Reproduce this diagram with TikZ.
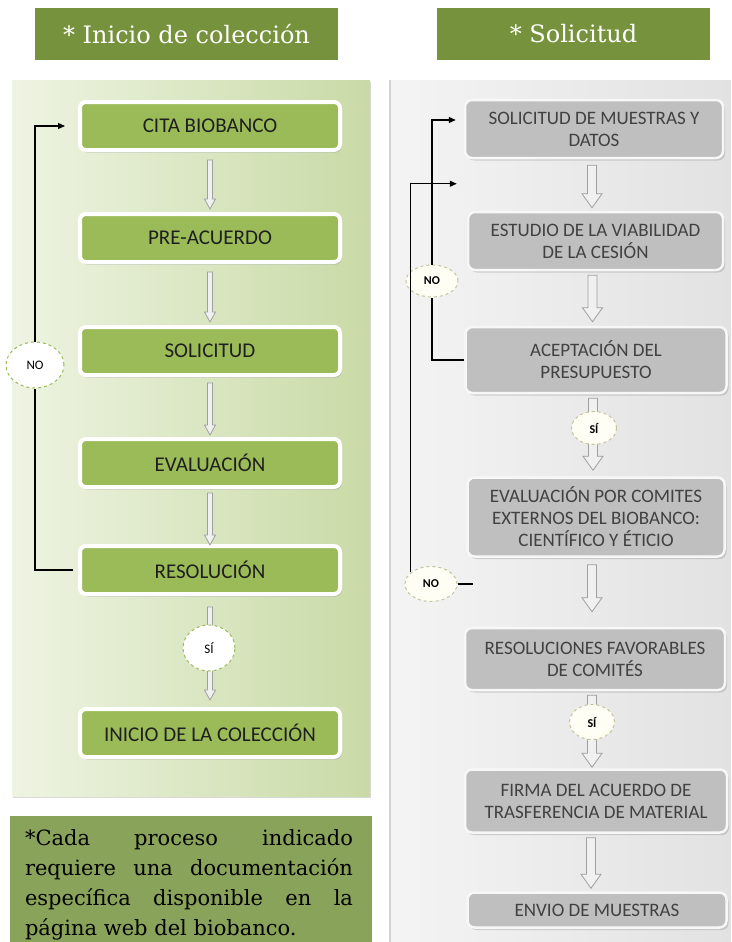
\documentclass[tikz,border=0pt]{standalone}
\usepackage{fontspec}
\setmainfont{Carlito}
\newfontfamily\rotulo{DejaVu Serif}
\usetikzlibrary{shapes.geometric,shadows,calc,arrows.meta}

\definecolor{verdetitulo}{HTML}{76923C}
\definecolor{verdecaja}{HTML}{9BBB59}
\definecolor{verdenota}{HTML}{8AA35A}
\definecolor{verdeclaro}{HTML}{EEF4E2}
\definecolor{verdefondo}{HTML}{C9DAA6}
\definecolor{grisclaro}{HTML}{F4F4F4}
\definecolor{grisfondo}{HTML}{E2E2E2}
\definecolor{texto}{HTML}{1F1F1F}
\definecolor{bordesino}{HTML}{C2C49A}

\begin{document}
\begin{tikzpicture}[x=1pt, y=-1pt,
    titulo/.style={fill=verdetitulo, text=white, font=\rotulo\fontsize{24}{28}\selectfont, minimum height=52pt, inner sep=0pt},
    caja/.style={draw=white, line width=4pt, fill=verdecaja, rounded corners=6pt, minimum width=260pt, minimum height=48pt,
        text=texto, font=\fontsize{21}{24}\selectfont, drop shadow={shadow xshift=1.5pt, shadow yshift=-2.5pt, opacity=0.35}},
    cajagris/.style={draw=gray!6, line width=2.5pt, fill=gray!50, rounded corners=7pt, align=center, inner sep=0pt,
        text=texto!85, font=\fontsize{19}{22}\selectfont, drop shadow={shadow xshift=2pt, shadow yshift=-2.5pt, opacity=0.3}},
    sino/.style={ellipse, draw=verdecaja, dashed, line width=1pt, fill=white, inner sep=0pt, font=\fontsize{13}{15}\selectfont},
    sinogris/.style={ellipse, draw=bordesino, dashed, line width=1pt, fill=yellow!4, inner sep=0pt, font=\bfseries\fontsize{12}{14}\selectfont},
    retorno/.style={line width=1.2pt, black},
    punta/.style={-{Triangle[length=7pt,width=6pt]}},
    flecha/.style n args={3}{draw=gray!75, fill=gray!12, line width=0.8pt,
        to path={let \p1=(\tikztostart), \p2=(\tikztotarget) in
            (\x1-#1,\y1) -- (\x1-#1,\y2+#3) -- (\x1-#2,\y2+#3) -- (\x1,\y2)
            -- (\x1+#2,\y2+#3) -- (\x1+#1,\y2+#3) -- (\x1+#1,\y1) -- cycle}},
    flechaizq/.style={flecha={2.5pt}{5.5pt}{10pt}},
    flechader/.style={flecha={4.5pt}{10pt}{14pt}},
    nota/.style={text width=328pt, align=justify, inner sep=0pt, text=black, font=\rotulo\fontsize{21}{30}\selectfont}]

    \useasboundingbox (0,0) rectangle (731,942);

    % fondos
    \shade[left color=verdeclaro, right color=verdefondo, drop shadow={shadow xshift=1pt, shadow yshift=-2pt, opacity=0.3}] (12,80) rectangle (370,796);
    \shade[left color=grisclaro, right color=grisfondo] (390,80) rectangle (731,942);
    \draw[gray!35, line width=1.5pt] (390,80) -- (390,942);

    \node[titulo, minimum width=303pt] (tinicio) at (186.5,34) {* Inicio de colección};
    \node[titulo, minimum width=273pt] (tsolicitud) at (573.5,34) {* Solicitud};

    % inicio de coleccion
    \node[caja] (cita) at (210,126) {CITA BIOBANCO};
    \node[caja] (pre) at (210,238) {PRE-ACUERDO};
    \node[caja] (solic) at (210,351) {SOLICITUD};
    \node[caja] (evalu) at (210,463) {EVALUACIÓN};
    \node[caja] (resol) at (210,570) {RESOLUCIÓN};
    \node[caja] (inicio) at (210,733) {INICIO DE LA COLECCIÓN};

    \draw[flechaizq] ([yshift=-8pt]cita.south) to ([yshift=3pt]cita.south |- pre.north);
    \draw[flechaizq] ([yshift=-8pt]pre.south) to ([yshift=3pt]pre.south |- solic.north);
    \draw[flechaizq] ([yshift=-6pt]solic.south) to ([yshift=2pt]solic.south |- evalu.north);
    \draw[flechaizq] ([yshift=-4pt]evalu.south) to ([yshift=-1pt]evalu.south |- resol.north);
    \draw[flechaizq] ([yshift=-11pt]resol.south) to ([yshift=7pt]resol.south |- inicio.north);

    \node[sino, minimum width=58pt, minimum height=46pt] (noizq) at (35,365) {NO};
    \node[sino, minimum width=52pt, minimum height=46pt] (siizq) at (209,648) {SÍ};
    \draw[retorno] ([xshift=-5pt]resol.west) -| (noizq.south);
    \draw[retorno, punta] (noizq.north) |- ([xshift=-13pt]cita.west);

    % solicitud
    \node[cajagris, minimum width=258pt, minimum height=58pt] (muestras) at (594,129) {SOLICITUD DE MUESTRAS Y\\DATOS};
    \node[cajagris, minimum width=255pt, minimum height=58pt] (estudio) at (595.5,241) {ESTUDIO DE LA VIABILIDAD\\DE LA CESIÓN};
    \node[cajagris, minimum width=261pt, minimum height=66pt] (acepta) at (596,360) {ACEPTACIÓN DEL\\PRESUPUESTO};
    \node[cajagris, minimum width=257pt, minimum height=79pt] (comites) at (596,517) {EVALUACIÓN POR COMITES\\EXTERNOS DEL BIOBANCO:\\CIENTÍFICO Y ÉTICIO};
    \node[cajagris, minimum width=260pt, minimum height=62pt] (favor) at (595,659) {RESOLUCIONES FAVORABLES\\DE COMITÉS};
    \node[cajagris, minimum width=262pt, minimum height=63pt] (firma) at (596,801) {FIRMA DEL ACUERDO DE\\TRASFERENCIA DE MATERIAL};
    \node[cajagris, minimum width=259pt, minimum height=35pt] (envio) at (597,910) {ENVIO DE MUESTRAS};

    \draw[flechader] ([xshift=-2pt,yshift=-6pt]muestras.south) to ([yshift=3pt]muestras.south |- estudio.north);
    \draw[flechader] ([xshift=-3pt,yshift=-4pt]estudio.south) to ([yshift=4pt]estudio.south |- acepta.north);
    \draw[flechader] ([xshift=-3pt,yshift=-4pt]acepta.south) to ([yshift=6pt]acepta.south |- comites.north);
    \draw[flechader] ([xshift=-4pt,yshift=-7pt]comites.south) to ([yshift=15pt]comites.south |- favor.north);
    \draw[flechader] ([xshift=-3pt,yshift=-4pt]favor.south) to ([yshift=1pt]favor.south |- firma.north);
    \draw[flechader] ([xshift=-5pt,yshift=-4pt]firma.south) to ([yshift=3pt]firma.south |- envio.north);

    \node[sinogris, minimum width=45pt, minimum height=33pt] (siuno) at (594,428) {SÍ};
    \node[sinogris, minimum width=45pt, minimum height=35pt] (sidos) at (592,722) {SÍ};
    \node[sinogris, minimum width=52pt, minimum height=32pt] (nouno) at (432,281) {NO};
    \node[sinogris, minimum width=52pt, minimum height=35pt] (nodos) at (431,584) {NO};

    \draw[retorno] (acepta.west) -| (nouno.south);
    \draw[retorno, punta] (nouno.north) |- ([xshift=-8pt,yshift=9pt]muestras.west);
    \draw[retorno, punta] (nodos.150) |- ([xshift=-10pt,yshift=27pt]estudio.north west);
    \draw[retorno] (nodos.east) -- ++(15,0);

    % nota
    \fill[verdenota] (10,816) rectangle (372,942);
    \node[nota] (textonota) at (189,885) {*Cada proceso indicado\linebreak requiere una documentación\linebreak específica disponible en la\linebreak página web del biobanco.};
\end{tikzpicture}
\end{document}
